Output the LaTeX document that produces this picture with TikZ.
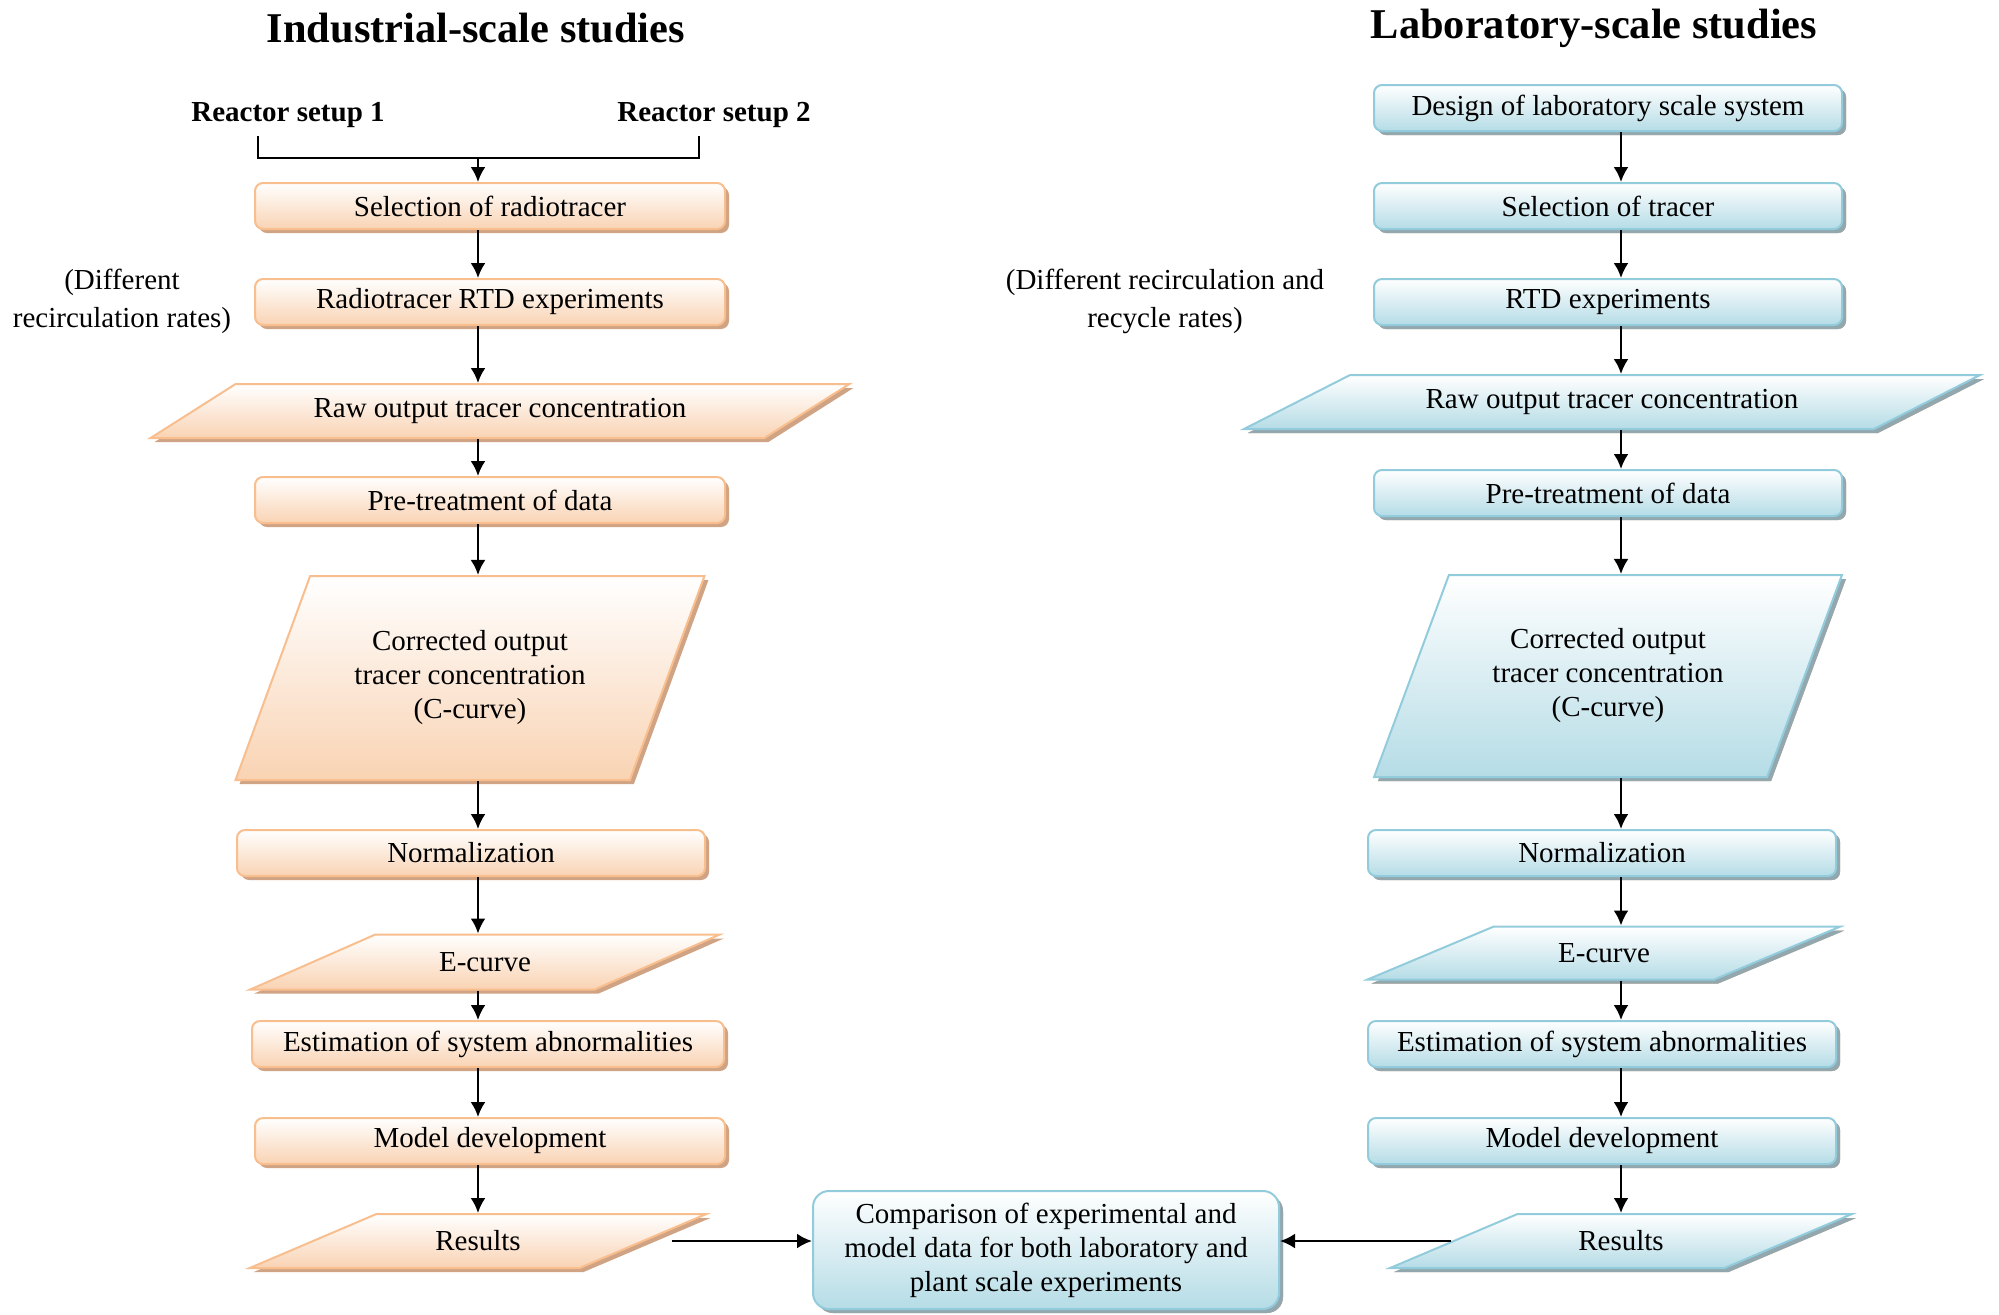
\documentclass[tikz,border=0pt]{standalone}
\usepackage{fontspec}
\setmainfont{Liberation Serif}
\usepackage{xcolor}
\definecolor{orline}{HTML}{F9BE8E}
\definecolor{orfill}{HTML}{F9D3B3}
\definecolor{orshade}{HTML}{CFA383}
\definecolor{blline}{HTML}{92CCDC}
\definecolor{blfill}{HTML}{B5DCE6}
\definecolor{blshade}{HTML}{93A8AE}
\usetikzlibrary{shapes.geometric,shadows,arrows.meta}
\newcommand{\bodyfont}{\fontsize{14.5}{17}\selectfont}
\tikzset{
  ibox/.style={draw=orline,line width=1pt,rounded corners=4pt,top color=white,bottom color=orfill,
    drop shadow={shadow xshift=2pt,shadow yshift=-2pt,fill=orshade,opacity=1},
    minimum width=235pt,minimum height=23pt,inner sep=2pt},
  lbox/.style={ibox,draw=blline,bottom color=blfill,
    drop shadow={shadow xshift=2pt,shadow yshift=-2pt,fill=blshade,opacity=1}},
  ipara/.style={trapezium,trapezium stretches=true,trapezium left angle=#1,trapezium right angle=180-#1,
    draw=orline,line width=1pt,top color=white,bottom color=orfill,align=center,inner sep=2pt,
    drop shadow={shadow xshift=2pt,shadow yshift=-2pt,fill=orshade,opacity=1}},
  lpara/.style={ipara=#1,draw=blline,bottom color=blfill,
    drop shadow={shadow xshift=2pt,shadow yshift=-2pt,fill=blshade,opacity=1}},
  htitle/.style={font=\fontsize{21.2}{25}\selectfont\bfseries},
}
\begin{document}
\begin{tikzpicture}[x=0.5pt,y=-0.5pt,every node/.style={font=\bodyfont},
    >={Latex[length=7.5pt,width=7.5pt]},line width=1.2pt]
    \useasboundingbox (0,0) rectangle (1999,1314);

    \node(tI)[htitle] at (476,28) {Industrial-scale studies};
    \node(tL)[htitle] at (1594,28) {Laboratory-scale studies};

    % industrial side
    \node(s1)[font=\bodyfont\bfseries] at (288,115) {Reactor setup 1};
    \node(s2)[font=\bodyfont\bfseries] at (714,115) {Reactor setup 2};
    \coordinate (b1) at (258,136);
    \coordinate (b2) at (699,136);
    \coordinate (bj) at (478,158);
    \draw (b1) |- (bj) -| (b2);

    \node(i1)[ibox] at (490,206) {Selection of radiotracer};
    \node(i2)[ibox] at (490,302) {Radiotracer RTD experiments};
    \node(i3)[ipara=28.6,minimum width=350pt,minimum height=27pt] at (500,411) {Raw output tracer concentration};
    \node(i4)[ibox] at (490,500) {Pre-treatment of data};
    \node(i5)[ipara=61.4,minimum width=235pt,minimum height=102pt] at (470,678) {Corrected output\\tracer concentration\\(C-curve)};
    \node(i6)[ibox,minimum width=234pt] at (471,853) {Normalization};
    \node(i7)[ipara=25.6,minimum width=235pt,minimum height=27.5pt] at (485,962) {E-curve};
    \node(i8)[ibox,minimum width=236pt] at (488,1044) {Estimation of system abnormalities};
    \node(i9)[ibox] at (490,1141) {Model development};
    \node(i10)[ipara=26,minimum width=228.5pt,minimum height=27pt] at (478,1241) {Results};

    \node(n1)[align=center,font=\fontsize{14.5}{19}\selectfont] at (122,301) {(Different\\recirculation rates)};

    % laboratory side
    \node(l1)[lbox,minimum width=234pt] at (1608,108) {Design of laboratory scale system};
    \node(l2)[lbox,minimum width=234pt] at (1608,206) {Selection of tracer};
    \node(l3)[lbox,minimum width=234pt] at (1608,302) {RTD experiments};
    \node(l4)[lpara=23.4,minimum width=369.5pt,minimum height=27pt] at (1612,402) {Raw output tracer concentration};
    \node(l5)[lbox,minimum width=234pt] at (1608,493) {Pre-treatment of data};
    \node(l6)[lpara=61.2,minimum width=234.5pt,minimum height=101pt] at (1608,676) {Corrected output\\tracer concentration\\(C-curve)};
    \node(l7)[lbox,minimum width=234pt] at (1602,853) {Normalization};
    \node(l8)[lpara=25.5,minimum width=236.5pt,minimum height=26.5pt] at (1604,953) {E-curve};
    \node(l9)[lbox,minimum width=234pt] at (1602,1044) {Estimation of system abnormalities};
    \node(l10)[lbox,minimum width=234pt] at (1602,1141) {Model development};
    \node(l11)[lpara=26.3,minimum width=231pt,minimum height=27pt] at (1621,1241) {Results};

    \node(n2)[align=center,font=\fontsize{14.5}{19}\selectfont] at (1165,301) {(Different recirculation and\\recycle rates)};

    \node(cmp)[lbox,rounded corners=8pt,align=center,minimum width=233pt,minimum height=59pt] at (1046,1250)
      {Comparison of experimental and\\model data for both laboratory and\\plant scale experiments};

    % connectors
    \coordinate (ia) at (478,0);
    \coordinate (la) at (1621,0);
    \coordinate (ie) at ([xshift=13pt]i10.0);
    \draw [->] (bj) -- (i1.north -| bj);
    \foreach \a/\b in {i1/i2,i2/i3,i3/i4,i4/i5,i5/i6,i6/i7,i7/i8,i8/i9,i9/i10}
      \draw [->] (\a.south -| ia) -- (\b.north -| ia);
    \foreach \a/\b in {l1/l2,l2/l3,l3/l4,l4/l5,l5/l6,l6/l7,l7/l8,l8/l9,l9/l10,l10/l11}
      \draw [->] (\a.south -| la) -- (\b.north -| la);
    \draw [->] (ie) -- (ie -| cmp.west);
    \draw [->] (l11.180) -- (l11.180 -| cmp.east);
\end{tikzpicture}
\end{document}
